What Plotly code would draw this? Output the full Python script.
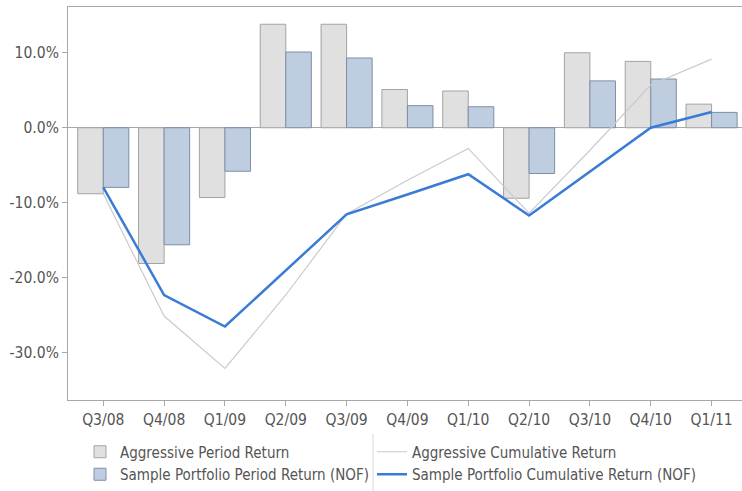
import plotly.graph_objects as go

categories = ["Q3/08", "Q4/08", "Q1/09", "Q2/09", "Q3/09", "Q4/09",
              "Q1/10", "Q2/10", "Q3/10", "Q4/10", "Q1/11"]
aggressive_period = [-8.8, -18.1, -9.3, 13.8, 13.8, 5.1, 4.9, -9.4, 10.0, 8.85, 3.15]
sample_period = [-7.95, -15.6, -5.8, 10.1, 9.3, 2.95, 2.8, -6.1, 6.25, 6.5, 2.05]
aggressive_cum = [-8.8, -25.1, -32.1, -22.3, -11.5, -7.0, -2.75, -11.4, -3.0, 5.7, 9.15]
sample_cum = [-7.95, -22.3, -26.5, -19.0, -11.55, -8.9, -6.2, -11.7, -5.8, 0.0, 2.1]
y_ticks = [-30, -20, -10, 0, 10]
y_tick_text = ["-30.0%", "-20.0%", "-10.0%", "0.0%", "10.0%"]

FONT = "DejaVu Sans Condensed, Roboto, sans-serif"
TXT = "#555555"
FS = 15.5
LFS = 15

PL, PT, PW, PH = 68, 7, 674, 393  # plot area in pixels


def px_x(x):
    return (x - PL) / PW


def px_y(y):
    return (PT + PH - y) / PH


fig = go.Figure()
fig.add_trace(go.Bar(
    x=categories, y=aggressive_period, name="Aggressive Period Return",
    marker=dict(color="#e0e0e0", line=dict(color="#a3a3a3", width=1)),
    legend="legend",
))
fig.add_trace(go.Bar(
    x=categories, y=sample_period, name="Sample Portfolio Period Return (NOF)",
    marker=dict(color="#bfcde0", line=dict(color="#7d8ea6", width=1)),
    legend="legend",
))
fig.add_trace(go.Scatter(
    x=categories, y=aggressive_cum, name="Aggressive Cumulative Return",
    mode="lines", line=dict(color="#cbcbcb", width=1.2),
    legend="legend2",
))
fig.add_trace(go.Scatter(
    x=categories, y=sample_cum, name="Sample Portfolio Cumulative Return (NOF)",
    mode="lines", line=dict(color="#3a7bd5", width=2.5),
    legend="legend2",
))

legend_common = dict(
    orientation="v", xanchor="left", yanchor="bottom",
    traceorder="normal", itemwidth=30, tracegroupgap=0,
    bgcolor="rgba(0,0,0,0)",
    font=dict(family=FONT, size=LFS, color=TXT),
)

fig.update_layout(
    width=742, height=491,
    margin=dict(l=PL, r=742 - PL - PW, t=PT, b=491 - PT - PH),
    paper_bgcolor="white", plot_bgcolor="white",
    barmode="group", bargap=0.16, bargroupgap=0,
    font=dict(family=FONT, size=FS, color=TXT),
    showlegend=True,
    legend=dict(x=px_x(80), y=px_y(490.5), **legend_common),
    legend2=dict(x=px_x(372), y=px_y(490.5), **legend_common),
    xaxis=dict(
        type="category", categoryorder="array", categoryarray=categories,
        range=[-0.58, 10.5],
        showline=True, linecolor="#a8a8a8", linewidth=1, mirror=True,
        ticks="outside", ticklen=5, tickcolor="#a8a8a8",
        showgrid=False, tickfont=dict(size=FS, color=TXT),
    ),
    yaxis=dict(
        range=[-36.3, 16.1],
        tickvals=y_ticks, ticktext=y_tick_text,
        showline=True, linecolor="#a8a8a8", linewidth=1,
        ticks="outside", ticklen=5, tickcolor="#a8a8a8",
        showgrid=False, zeroline=True, zerolinecolor="#a8a8a8", zerolinewidth=1,
        tickfont=dict(size=FS, color=TXT),
    ),
    shapes=[dict(
        type="line", xref="paper", yref="paper",
        x0=px_x(373), x1=px_x(373), y0=px_y(434), y1=px_y(491),
        line=dict(color="#d6d6d6", width=1),
    )],
)

fig.write_html("out.html", config={"displayModeBar": False},
               post_script="document.body.style.margin='0';")
